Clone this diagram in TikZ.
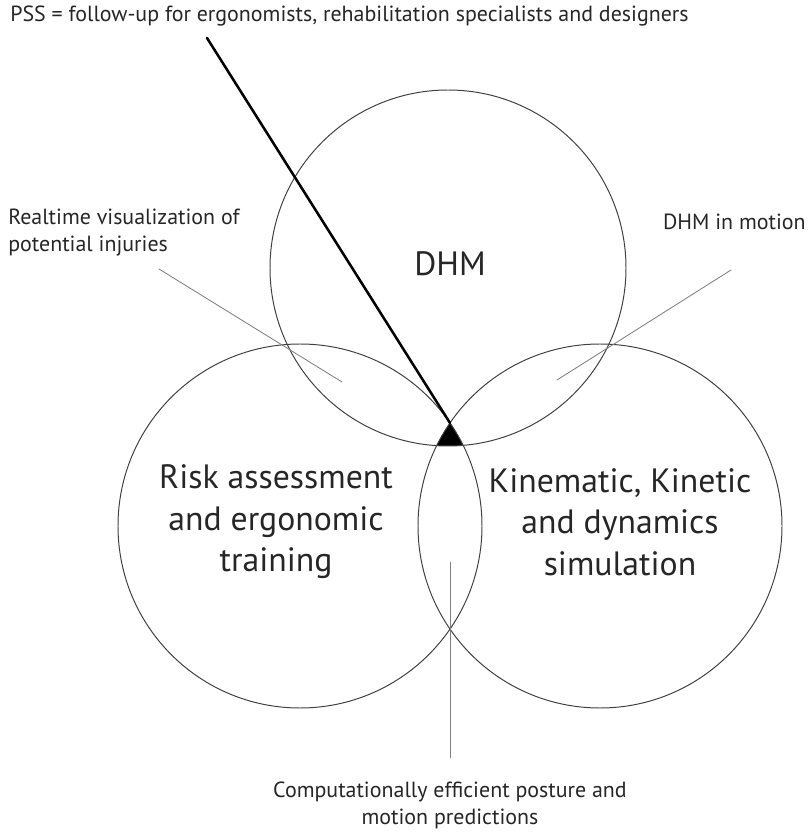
\documentclass[tikz,border=0pt]{standalone}
\usepackage{fontspec}
\setmainfont{PT Sans}
\usepackage{tikz}
\usepackage{tkz-euclide}
\usetikzlibrary{calc,intersections,through,backgrounds}

\tikzset{
  ring/.style={color=black!75,line width=0.7pt},
  leader/.style={color=black!50,line width=0.6pt},
  smalltxt/.style={inner sep=0pt,font=\fontsize{15.6}{19.5}\selectfont,color=black!85},
  bigtxt/.style={inner sep=0pt,align=center,font=\fontsize{24}{29.5}\selectfont,color=black!85}
}

\begin{document}
\begin{tikzpicture}[scale=1]
    \tkzDefPoint(0,0){SW}
    \tkzDefPoint(20.2,20.8){NE}
    \useasboundingbox (SW) rectangle (NE);
    % centres and a point on each circle
    \tkzDefPoint(11.2,14.1){O1}
    \tkzDefPoint(11.2,18.55){A1}
    \tkzDefPoint(7.5,7.65){O2}
    \tkzDefPoint(2.95,7.65){A2}
    \tkzDefPoint(15,7.65){O3}
    \tkzDefPoint(19.55,7.65){A3}
    % common part of the three circles
    \begin{scope}
      \tkzClipCircle(O1,A1)
      \tkzClipCircle(O2,A2)
      \tkzFillCircle[fill=black](O3,A3)
    \end{scope}
    \tkzDrawCircle[ring](O1,A1)
    \tkzDrawCircle[ring](O2,A2)
    \tkzDrawCircle[ring](O3,A3)
    %\tkzDrawPoints(O1,O2,O3)
    % leader lines
    \tkzDefPoint(11.25,10.225){T}
    \tkzDefPoint(5.175,19.85){P}
    \tkzDefPoint(3.975,14.075){V1}
    \tkzDefPoint(8.55,11.25){V2}
    \tkzDefPoint(18.275,14.05){M1}
    \tkzDefPoint(13.925,11.3){M2}
    \tkzDefPoint(11.25,6.75){C1}
    \tkzDefPoint(11.25,1.85){C2}
    \tkzDrawSegment[color=black,line width=1.8pt](P,T)
    \tkzDrawSegment[leader](V1,V2)
    \tkzDrawSegment[leader](M1,M2)
    \tkzDrawSegment[leader](C1,C2)
    % texts
    \node[smalltxt,anchor=base west] (pss) at (0.25,20.25)
      {PSS = follow-up for ergonomists, rehabilitation specialists and designers};
    \node[smalltxt,anchor=base west,align=left] (real) at (0.2,14.5)
      {Realtime visualization of\\potential injuries};
    \node[smalltxt,anchor=base east] (motion) at (20.15,15.05) {DHM in motion};
    \node[bigtxt] (dhm) at (11.25,14.2) {DHM};
    \node[bigtxt] (risk) at (6.9,7.75) {Risk assessment\\and ergonomic\\training};
    \node[bigtxt] (kin) at (15.5,7.75) {Kinematic, Kinetic\\and dynamics\\simulation};
    \node[smalltxt,align=center,anchor=north] (comp) at (11.25,1.27)
      {Computationally efficient posture and\\motion predictions};
\end{tikzpicture}
\end{document}
